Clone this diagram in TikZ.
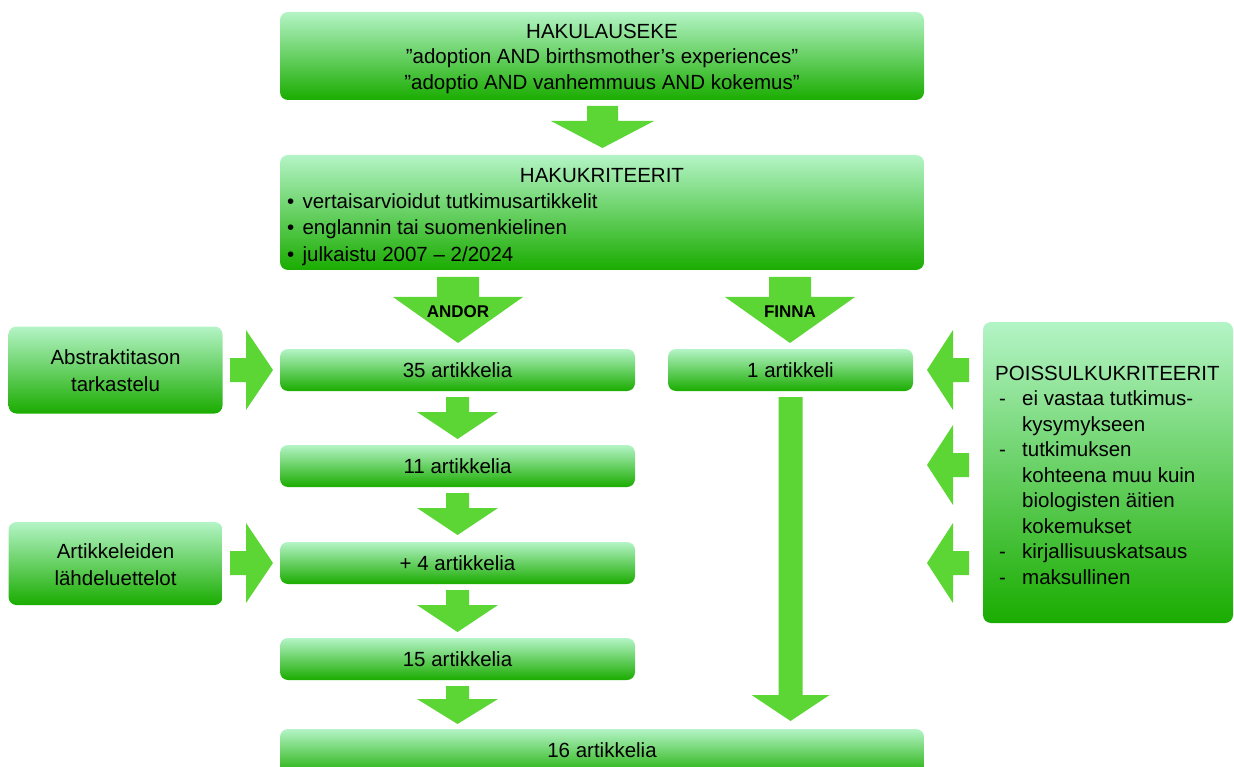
\documentclass[tikz,border=0pt]{standalone}
\usepackage{fontspec}
\setmainfont{Liberation Sans}
\definecolor{gtop}{RGB}{180,244,198}
\definecolor{gbot}{RGB}{26,172,0}
\definecolor{arr}{RGB}{92,214,52}
\newcommand{\fs}{\fontsize{20.5}{25.5}\selectfont}
% down block arrow: x, ytop, yhead, ytip, shafthalf, headhalf
\newcommand{\blockdown}[6]{%
  \fill[arr] (#1-#5,#2) -- (#1+#5,#2) -- (#1+#5,#3) -- (#1+#6,#3) -- (#1,#4)
    -- (#1-#6,#3) -- (#1-#5,#3) -- cycle;}
% horizontal block arrow: xstart, xhead, xtip, ycenter, shafthalf, headhalf
\newcommand{\blockh}[6]{%
  \fill[arr] (#1,#4-#5) -- (#2,#4-#5) -- (#2,#4-#6) -- (#3,#4) -- (#2,#4+#6)
    -- (#2,#4+#5) -- (#1,#4+#5) -- cycle;}
\tikzset{
  box/.style={rectangle, rounded corners=8pt, top color=gtop, bottom color=gbot,
    draw=none, inner sep=0pt, align=center, font=\fs},
  txt/.style={inner sep=0pt, font=\fs},
  lbl/.style={inner sep=0pt, font=\fontsize{17}{20}\selectfont\bfseries}
}
\begin{document}
\begin{tikzpicture}[x=1pt,y=-1pt]
\useasboundingbox (0,0) rectangle (1234,767);

% main boxes
\node[box, minimum width=644pt, minimum height=88pt] (top) at (602,56) {};
\node[txt, align=center] (topT) at (602,58.5)
  {HAKULAUSEKE\\”adoption AND birthsmother’s experiences”\\”adoptio AND vanhemmuus AND kokemus”};
\node[box, minimum width=644pt, minimum height=115pt] (crit) at (602,212.5) {};
\node[txt] (critT) at (602,176) {HAKUKRITEERIT};
\node[txt, anchor=west, align=left, font=\fontsize{20.5}{26.5}\selectfont] (critL) at (287,229.5)
  {•\hspace{2.5pt} vertaisarvioidut tutkimusartikkelit\\•\hspace{2.5pt} englannin tai suomenkielinen\\•\hspace{2.5pt} julkaistu 2007 – 2/2024};

\node[box, minimum width=355pt, minimum height=42pt] (a35) at (457.5,370) {35 artikkelia};
\node[box, minimum width=355pt, minimum height=42pt] (a11) at (457.5,466) {11 artikkelia};
\node[box, minimum width=355pt, minimum height=42pt] (a4) at (457.5,563) {+ 4 artikkelia};
\node[box, minimum width=355pt, minimum height=42pt] (a15) at (457.5,659) {15 artikkelia};
\node[box, minimum width=644pt, minimum height=48pt] (a16) at (602,753) {};
\node[txt] (a16T) at (602,750) {16 artikkelia};
\node[box, minimum width=245pt, minimum height=42pt] (a1) at (790.5,370) {1 artikkeli};

\node[box, minimum width=214pt, minimum height=87pt] (abs) at (115.5,370) {};
\node[txt, align=center, font=\fontsize{20.5}{27}\selectfont] (absT) at (115.5,371) {Abstraktitason\\tarkastelu};
\node[box, minimum width=214pt, minimum height=83pt] (art) at (115.5,563.5) {};
\node[txt, align=center, font=\fontsize{20.5}{27}\selectfont] (artT) at (115.5,565) {Artikkeleiden\\lähdeluettelot};

\node[box, minimum width=250pt, minimum height=301pt] (pois) at (1108,472.5) {};
\node[txt, anchor=west, align=left] (poisT) at (995,475)
  {POISSULKUKRITEERIT\\
   \makebox[27pt][l]{\hspace{4pt}-}ei vastaa tutkimus-\\
   \hspace*{27pt}kysymykseen\\
   \makebox[27pt][l]{\hspace{4pt}-}tutkimuksen\\
   \hspace*{27pt}kohteena muu kuin\\
   \hspace*{27pt}biologisten äitien\\
   \hspace*{27pt}kokemukset\\
   \makebox[27pt][l]{\hspace{4pt}-}kirjallisuuskatsaus\\
   \makebox[27pt][l]{\hspace{4pt}-}maksullinen};

% block arrows
\blockdown{602.5}{106}{121}{148}{15.5}{51.5}
\blockdown{458}{277}{297}{343}{21}{65}
\node[lbl] (andor) at (458,312) {ANDOR};
\blockdown{790}{277}{297}{343}{21}{65}
\node[lbl] (finna) at (790,312) {FINNA};

\blockdown{457.5}{397}{412}{439}{11.5}{40.5}
\blockdown{457.5}{493}{508}{535}{11.5}{40.5}
\blockdown{457.5}{590}{605}{632}{11.5}{40.5}
\blockdown{457.5}{686}{699}{724}{11.5}{40.5}

\blockdown{790.5}{397}{695}{721}{12}{39}

\blockh{230}{246}{273}{370}{12}{40}
\blockh{230}{246}{273}{563}{12}{40}

\blockh{969}{953}{927}{370}{12}{40}
\blockh{969}{953}{927}{465}{12}{40}
\blockh{969}{953}{927}{563}{12}{40}
\end{tikzpicture}
\end{document}
